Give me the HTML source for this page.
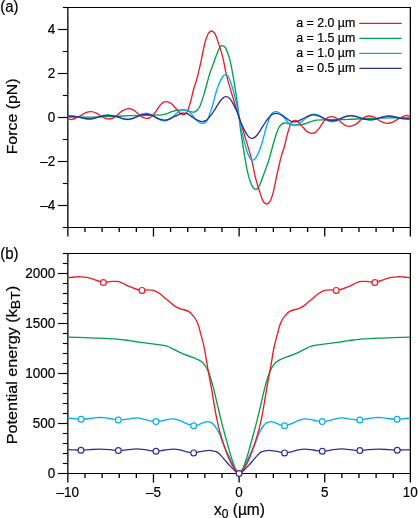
<!DOCTYPE html>
<html><head><meta charset="utf-8"><style>
html,body{margin:0;padding:0;background:#fff;width:418px;height:518px;overflow:hidden}
svg{display:block;will-change:transform}
text{font-family:"Liberation Sans", sans-serif;fill:#000;stroke:#000;stroke-width:0.2px}
</style></head><body>
<svg width="418" height="518" viewBox="0 0 418 518">
<defs><clipPath id="cliptop"><rect x="67.85" y="7.50" width="342.50" height="220.00"/></clipPath>
<clipPath id="clipbot"><rect x="64.85" y="253.50" width="348.50" height="223.00"/></clipPath></defs>
<line x1="67.20" y1="7.50" x2="411.00" y2="7.50" stroke="#000" stroke-width="1.15"/>
<line x1="67.20" y1="227.50" x2="411.00" y2="227.50" stroke="#000" stroke-width="1.15"/>
<line x1="67.85" y1="6.92" x2="67.85" y2="228.07" stroke="#000" stroke-width="1.3"/>
<line x1="410.35" y1="6.92" x2="410.35" y2="228.07" stroke="#000" stroke-width="1.3"/>
<line x1="67.85" y1="227.50" x2="67.85" y2="236.60" stroke="#000" stroke-width="1.3"/>
<line x1="84.97" y1="227.50" x2="84.97" y2="232.00" stroke="#000" stroke-width="1.3"/>
<line x1="102.10" y1="227.50" x2="102.10" y2="232.00" stroke="#000" stroke-width="1.3"/>
<line x1="119.22" y1="227.50" x2="119.22" y2="232.00" stroke="#000" stroke-width="1.3"/>
<line x1="136.35" y1="227.50" x2="136.35" y2="232.00" stroke="#000" stroke-width="1.3"/>
<line x1="153.47" y1="227.50" x2="153.47" y2="236.60" stroke="#000" stroke-width="1.3"/>
<line x1="170.60" y1="227.50" x2="170.60" y2="232.00" stroke="#000" stroke-width="1.3"/>
<line x1="187.72" y1="227.50" x2="187.72" y2="232.00" stroke="#000" stroke-width="1.3"/>
<line x1="204.85" y1="227.50" x2="204.85" y2="232.00" stroke="#000" stroke-width="1.3"/>
<line x1="221.97" y1="227.50" x2="221.97" y2="232.00" stroke="#000" stroke-width="1.3"/>
<line x1="239.10" y1="227.50" x2="239.10" y2="236.60" stroke="#000" stroke-width="1.3"/>
<line x1="256.23" y1="227.50" x2="256.23" y2="232.00" stroke="#000" stroke-width="1.3"/>
<line x1="273.35" y1="227.50" x2="273.35" y2="232.00" stroke="#000" stroke-width="1.3"/>
<line x1="290.48" y1="227.50" x2="290.48" y2="232.00" stroke="#000" stroke-width="1.3"/>
<line x1="307.60" y1="227.50" x2="307.60" y2="232.00" stroke="#000" stroke-width="1.3"/>
<line x1="324.73" y1="227.50" x2="324.73" y2="236.60" stroke="#000" stroke-width="1.3"/>
<line x1="341.85" y1="227.50" x2="341.85" y2="232.00" stroke="#000" stroke-width="1.3"/>
<line x1="358.98" y1="227.50" x2="358.98" y2="232.00" stroke="#000" stroke-width="1.3"/>
<line x1="376.10" y1="227.50" x2="376.10" y2="232.00" stroke="#000" stroke-width="1.3"/>
<line x1="393.23" y1="227.50" x2="393.23" y2="232.00" stroke="#000" stroke-width="1.3"/>
<line x1="410.35" y1="227.50" x2="410.35" y2="236.60" stroke="#000" stroke-width="1.3"/>
<line x1="62.85" y1="227.50" x2="67.85" y2="227.50" stroke="#000" stroke-width="1.15"/>
<line x1="58.05" y1="205.50" x2="67.85" y2="205.50" stroke="#000" stroke-width="1.15"/>
<text transform="translate(55.30,210.20) scale(1,1.1)" font-size="13.5" text-anchor="end" >–4</text>
<line x1="62.85" y1="183.50" x2="67.85" y2="183.50" stroke="#000" stroke-width="1.15"/>
<line x1="58.05" y1="161.50" x2="67.85" y2="161.50" stroke="#000" stroke-width="1.15"/>
<text transform="translate(55.30,166.20) scale(1,1.1)" font-size="13.5" text-anchor="end" >–2</text>
<line x1="62.85" y1="139.50" x2="67.85" y2="139.50" stroke="#000" stroke-width="1.15"/>
<line x1="58.05" y1="117.50" x2="67.85" y2="117.50" stroke="#000" stroke-width="1.15"/>
<text transform="translate(55.30,122.20) scale(1,1.1)" font-size="13.5" text-anchor="end" >0</text>
<line x1="62.85" y1="95.50" x2="67.85" y2="95.50" stroke="#000" stroke-width="1.15"/>
<line x1="58.05" y1="73.50" x2="67.85" y2="73.50" stroke="#000" stroke-width="1.15"/>
<text transform="translate(55.30,78.20) scale(1,1.1)" font-size="13.5" text-anchor="end" >2</text>
<line x1="62.85" y1="51.50" x2="67.85" y2="51.50" stroke="#000" stroke-width="1.15"/>
<line x1="58.05" y1="29.50" x2="67.85" y2="29.50" stroke="#000" stroke-width="1.15"/>
<text transform="translate(55.30,34.20) scale(1,1.1)" font-size="13.5" text-anchor="end" >4</text>
<line x1="62.85" y1="7.50" x2="67.85" y2="7.50" stroke="#000" stroke-width="1.15"/>
<line x1="67.20" y1="253.50" x2="411.00" y2="253.50" stroke="#000" stroke-width="1.15"/>
<line x1="67.20" y1="473.50" x2="411.00" y2="473.50" stroke="#000" stroke-width="1.15"/>
<line x1="67.85" y1="252.93" x2="67.85" y2="474.07" stroke="#000" stroke-width="1.3"/>
<line x1="410.35" y1="252.93" x2="410.35" y2="474.07" stroke="#000" stroke-width="1.3"/>
<line x1="67.85" y1="473.50" x2="67.85" y2="482.60" stroke="#000" stroke-width="1.3"/>
<line x1="84.97" y1="473.50" x2="84.97" y2="478.00" stroke="#000" stroke-width="1.3"/>
<line x1="102.10" y1="473.50" x2="102.10" y2="478.00" stroke="#000" stroke-width="1.3"/>
<line x1="119.22" y1="473.50" x2="119.22" y2="478.00" stroke="#000" stroke-width="1.3"/>
<line x1="136.35" y1="473.50" x2="136.35" y2="478.00" stroke="#000" stroke-width="1.3"/>
<line x1="153.47" y1="473.50" x2="153.47" y2="482.60" stroke="#000" stroke-width="1.3"/>
<line x1="170.60" y1="473.50" x2="170.60" y2="478.00" stroke="#000" stroke-width="1.3"/>
<line x1="187.72" y1="473.50" x2="187.72" y2="478.00" stroke="#000" stroke-width="1.3"/>
<line x1="204.85" y1="473.50" x2="204.85" y2="478.00" stroke="#000" stroke-width="1.3"/>
<line x1="221.97" y1="473.50" x2="221.97" y2="478.00" stroke="#000" stroke-width="1.3"/>
<line x1="239.10" y1="473.50" x2="239.10" y2="482.60" stroke="#000" stroke-width="1.3"/>
<line x1="256.23" y1="473.50" x2="256.23" y2="478.00" stroke="#000" stroke-width="1.3"/>
<line x1="273.35" y1="473.50" x2="273.35" y2="478.00" stroke="#000" stroke-width="1.3"/>
<line x1="290.48" y1="473.50" x2="290.48" y2="478.00" stroke="#000" stroke-width="1.3"/>
<line x1="307.60" y1="473.50" x2="307.60" y2="478.00" stroke="#000" stroke-width="1.3"/>
<line x1="324.73" y1="473.50" x2="324.73" y2="482.60" stroke="#000" stroke-width="1.3"/>
<line x1="341.85" y1="473.50" x2="341.85" y2="478.00" stroke="#000" stroke-width="1.3"/>
<line x1="358.98" y1="473.50" x2="358.98" y2="478.00" stroke="#000" stroke-width="1.3"/>
<line x1="376.10" y1="473.50" x2="376.10" y2="478.00" stroke="#000" stroke-width="1.3"/>
<line x1="393.23" y1="473.50" x2="393.23" y2="478.00" stroke="#000" stroke-width="1.3"/>
<line x1="410.35" y1="473.50" x2="410.35" y2="482.60" stroke="#000" stroke-width="1.3"/>
<line x1="58.05" y1="473.50" x2="67.85" y2="473.50" stroke="#000" stroke-width="1.15"/>
<text transform="translate(55.30,478.10) scale(1,1.1)" font-size="13.5" text-anchor="end" >0</text>
<line x1="62.85" y1="463.50" x2="67.85" y2="463.50" stroke="#000" stroke-width="1.15"/>
<line x1="62.85" y1="453.50" x2="67.85" y2="453.50" stroke="#000" stroke-width="1.15"/>
<line x1="62.85" y1="443.50" x2="67.85" y2="443.50" stroke="#000" stroke-width="1.15"/>
<line x1="62.85" y1="433.50" x2="67.85" y2="433.50" stroke="#000" stroke-width="1.15"/>
<line x1="58.05" y1="423.50" x2="67.85" y2="423.50" stroke="#000" stroke-width="1.15"/>
<text transform="translate(55.30,428.10) scale(1,1.1)" font-size="13.5" text-anchor="end" >500</text>
<line x1="62.85" y1="413.50" x2="67.85" y2="413.50" stroke="#000" stroke-width="1.15"/>
<line x1="62.85" y1="403.50" x2="67.85" y2="403.50" stroke="#000" stroke-width="1.15"/>
<line x1="62.85" y1="393.50" x2="67.85" y2="393.50" stroke="#000" stroke-width="1.15"/>
<line x1="62.85" y1="383.50" x2="67.85" y2="383.50" stroke="#000" stroke-width="1.15"/>
<line x1="58.05" y1="373.50" x2="67.85" y2="373.50" stroke="#000" stroke-width="1.15"/>
<text transform="translate(55.30,378.10) scale(1,1.1)" font-size="13.5" text-anchor="end" >1000</text>
<line x1="62.85" y1="363.50" x2="67.85" y2="363.50" stroke="#000" stroke-width="1.15"/>
<line x1="62.85" y1="353.50" x2="67.85" y2="353.50" stroke="#000" stroke-width="1.15"/>
<line x1="62.85" y1="343.50" x2="67.85" y2="343.50" stroke="#000" stroke-width="1.15"/>
<line x1="62.85" y1="333.50" x2="67.85" y2="333.50" stroke="#000" stroke-width="1.15"/>
<line x1="58.05" y1="323.50" x2="67.85" y2="323.50" stroke="#000" stroke-width="1.15"/>
<text transform="translate(55.30,328.10) scale(1,1.1)" font-size="13.5" text-anchor="end" >1500</text>
<line x1="62.85" y1="313.50" x2="67.85" y2="313.50" stroke="#000" stroke-width="1.15"/>
<line x1="62.85" y1="303.50" x2="67.85" y2="303.50" stroke="#000" stroke-width="1.15"/>
<line x1="62.85" y1="293.50" x2="67.85" y2="293.50" stroke="#000" stroke-width="1.15"/>
<line x1="62.85" y1="283.50" x2="67.85" y2="283.50" stroke="#000" stroke-width="1.15"/>
<line x1="58.05" y1="273.50" x2="67.85" y2="273.50" stroke="#000" stroke-width="1.15"/>
<text transform="translate(55.30,278.10) scale(1,1.1)" font-size="13.5" text-anchor="end" >2000</text>
<line x1="62.85" y1="263.50" x2="67.85" y2="263.50" stroke="#000" stroke-width="1.15"/>
<line x1="62.85" y1="253.50" x2="67.85" y2="253.50" stroke="#000" stroke-width="1.15"/>
<text transform="translate(67.85,496.60) scale(1,1.1)" font-size="13.5" text-anchor="middle" >–10</text>
<text transform="translate(153.47,496.60) scale(1,1.1)" font-size="13.5" text-anchor="middle" >–5</text>
<text transform="translate(239.10,496.60) scale(1,1.1)" font-size="13.5" text-anchor="middle" >0</text>
<text transform="translate(324.73,496.60) scale(1,1.1)" font-size="13.5" text-anchor="middle" >5</text>
<text transform="translate(410.35,496.60) scale(1,1.1)" font-size="13.5" text-anchor="middle" >10</text>
<text transform="translate(0.30,12.10) scale(1,1.07)" font-size="15" text-anchor="start" >(a)</text>
<text transform="translate(0.30,258.50) scale(1,1.07)" font-size="15" text-anchor="start" >(b)</text>
<text transform="translate(17,116.4) scale(1,1.06) rotate(-90)" font-size="15" text-anchor="middle">Force (pN)</text>
<text transform="translate(17.2,444.2) scale(1,1.08) rotate(-90)" font-size="15" text-anchor="start">Potential energy (k<tspan font-size="13" dy="3">BT</tspan><tspan dy="-3">)</tspan></text>
<text transform="translate(214,514.6) scale(1,1.08)" font-size="15.5" text-anchor="start">x<tspan font-size="12" dy="3.0">0</tspan><tspan dy="-3.0"> (µm)</tspan></text>
<text transform="translate(355.30,26.90) scale(1,1.1)" font-size="12.4" text-anchor="end" >a = 2.0 µm</text>
<line x1="359.30" y1="23.35" x2="401.70" y2="23.35" stroke="#ed1c24" stroke-width="1.25"/>
<text transform="translate(355.30,41.90) scale(1,1.1)" font-size="12.4" text-anchor="end" >a = 1.5 µm</text>
<line x1="359.30" y1="38.35" x2="401.70" y2="38.35" stroke="#00a14b" stroke-width="1.25"/>
<text transform="translate(355.30,56.90) scale(1,1.1)" font-size="12.4" text-anchor="end" >a = 1.0 µm</text>
<line x1="359.30" y1="53.35" x2="401.70" y2="53.35" stroke="#00aeef" stroke-width="1.25"/>
<text transform="translate(355.30,71.90) scale(1,1.1)" font-size="12.4" text-anchor="end" >a = 0.5 µm</text>
<line x1="359.30" y1="68.35" x2="401.70" y2="68.35" stroke="#2e3192" stroke-width="1.25"/>
<g transform="translate(-0.15,0.3)">
<path d="M68.00,116.80 C70.83,116.82 79.67,116.93 85.00,116.90 C90.33,116.87 94.83,116.75 100.00,116.60 C105.17,116.45 111.00,116.22 116.00,116.00 C121.00,115.78 125.17,115.47 130.00,115.30 C134.83,115.13 140.83,115.07 145.00,115.00 C149.17,114.93 152.17,114.97 155.00,114.90 C157.83,114.83 160.17,114.82 162.00,114.60 C163.83,114.38 164.67,114.00 166.00,113.60 C167.33,113.20 168.75,112.65 170.00,112.20 C171.25,111.75 172.22,111.28 173.50,110.90 C174.78,110.52 175.88,110.12 177.70,109.90 C179.52,109.68 182.60,109.48 184.40,109.60 C186.20,109.72 187.32,110.27 188.50,110.60 C189.68,110.93 190.50,111.42 191.50,111.60 C192.50,111.78 193.50,112.03 194.50,111.70 C195.50,111.37 196.62,110.47 197.50,109.60 C198.38,108.73 198.95,108.27 199.80,106.50 C200.65,104.73 201.73,101.58 202.60,99.00 C203.47,96.42 204.17,93.92 205.00,91.00 C205.83,88.08 206.77,84.50 207.60,81.50 C208.43,78.50 209.27,75.33 210.00,73.00 C210.73,70.67 211.33,69.33 212.00,67.50 C212.67,65.67 213.28,63.98 214.00,62.00 C214.72,60.02 215.43,57.87 216.30,55.60 C217.17,53.33 218.42,50.00 219.20,48.40 C219.98,46.80 220.45,46.52 221.00,46.00 C221.55,45.48 221.97,45.28 222.50,45.30 C223.03,45.32 223.63,45.65 224.20,46.10 C224.77,46.55 225.30,46.93 225.90,48.00 C226.50,49.07 227.25,51.07 227.80,52.50 C228.35,53.93 228.67,54.77 229.20,56.60 C229.73,58.43 230.42,60.83 231.00,63.50 C231.58,66.17 232.00,68.58 232.70,72.60 C233.40,76.62 234.37,82.28 235.20,87.60 C236.03,92.92 237.02,99.57 237.70,104.50 C238.38,109.43 238.73,112.97 239.25,117.20 C239.77,121.43 240.12,124.97 240.80,129.90 C241.48,134.83 242.47,141.48 243.30,146.80 C244.13,152.12 245.10,157.78 245.80,161.80 C246.50,165.82 246.92,168.23 247.50,170.90 C248.08,173.57 248.77,175.97 249.30,177.80 C249.83,179.63 250.15,180.47 250.70,181.90 C251.25,183.33 252.00,185.33 252.60,186.40 C253.20,187.47 253.73,187.85 254.30,188.30 C254.87,188.75 255.47,189.08 256.00,189.10 C256.53,189.12 256.95,188.92 257.50,188.40 C258.05,187.88 258.52,187.60 259.30,186.00 C260.08,184.40 261.33,181.07 262.20,178.80 C263.07,176.53 263.78,174.38 264.50,172.40 C265.22,170.42 265.83,168.73 266.50,166.90 C267.17,165.07 267.77,163.73 268.50,161.40 C269.23,159.07 270.07,155.90 270.90,152.90 C271.73,149.90 272.67,146.32 273.50,143.40 C274.33,140.48 275.03,137.98 275.90,135.40 C276.77,132.82 277.85,129.67 278.70,127.90 C279.55,126.13 280.12,125.67 281.00,124.80 C281.88,123.93 283.00,123.03 284.00,122.70 C285.00,122.37 286.00,122.62 287.00,122.80 C288.00,122.98 288.82,123.47 290.00,123.80 C291.18,124.13 292.30,124.68 294.10,124.80 C295.90,124.92 298.98,124.72 300.80,124.50 C302.62,124.28 303.72,123.88 305.00,123.50 C306.28,123.12 307.25,122.65 308.50,122.20 C309.75,121.75 311.17,121.20 312.50,120.80 C313.83,120.40 314.67,120.02 316.50,119.80 C318.33,119.58 320.67,119.57 323.50,119.50 C326.33,119.43 329.33,119.47 333.50,119.40 C337.67,119.33 343.67,119.27 348.50,119.10 C353.33,118.93 357.50,118.62 362.50,118.40 C367.50,118.18 373.33,117.95 378.50,117.80 C383.67,117.65 388.17,117.53 393.50,117.50 C398.83,117.47 407.67,117.58 410.50,117.60" fill="none" stroke="#00a14b" stroke-width="1.35" clip-path="url(#cliptop)"/>
<path d="M68.00,118.30 C68.77,118.43 70.62,119.50 72.60,119.10 C74.58,118.70 77.75,116.98 79.90,115.90 C82.05,114.82 83.58,113.35 85.50,112.60 C87.42,111.85 89.57,111.37 91.40,111.40 C93.23,111.43 94.83,112.07 96.50,112.80 C98.17,113.53 99.90,114.93 101.40,115.80 C102.90,116.67 104.13,117.52 105.50,118.00 C106.87,118.48 108.35,118.73 109.60,118.70 C110.85,118.67 111.82,118.30 113.00,117.80 C114.18,117.30 115.20,116.87 116.70,115.70 C118.20,114.53 120.00,112.03 122.00,110.80 C124.00,109.57 126.78,108.50 128.70,108.30 C130.62,108.10 132.03,108.85 133.50,109.60 C134.97,110.35 136.08,111.63 137.50,112.80 C138.92,113.97 140.50,115.72 142.00,116.60 C143.50,117.48 145.17,117.98 146.50,118.10 C147.83,118.22 148.88,117.80 150.00,117.30 C151.12,116.80 152.12,116.23 153.20,115.10 C154.28,113.97 155.37,112.13 156.50,110.50 C157.63,108.87 158.92,106.67 160.00,105.30 C161.08,103.93 161.90,102.95 163.00,102.30 C164.10,101.65 165.43,101.35 166.60,101.40 C167.77,101.45 169.10,102.20 170.00,102.60 C170.90,103.00 170.87,102.72 172.00,103.80 C173.13,104.88 175.47,107.63 176.80,109.10 C178.13,110.57 179.00,111.75 180.00,112.60 C181.00,113.45 181.88,114.03 182.80,114.20 C183.72,114.37 184.72,114.10 185.50,113.60 C186.28,113.10 186.83,112.55 187.50,111.20 C188.17,109.85 188.82,107.70 189.50,105.50 C190.18,103.30 190.87,100.83 191.60,98.00 C192.33,95.17 193.03,91.62 193.90,88.50 C194.77,85.38 195.93,82.37 196.80,79.30 C197.67,76.23 198.33,73.32 199.10,70.10 C199.87,66.88 200.68,63.35 201.40,60.00 C202.12,56.65 202.75,53.07 203.40,50.00 C204.05,46.93 204.70,43.87 205.30,41.60 C205.90,39.33 206.47,37.80 207.00,36.40 C207.53,35.00 207.97,34.05 208.50,33.20 C209.03,32.35 209.65,31.72 210.20,31.30 C210.75,30.88 211.27,30.68 211.80,30.70 C212.33,30.72 212.88,31.00 213.40,31.40 C213.92,31.80 214.40,32.30 214.90,33.10 C215.40,33.90 215.92,35.00 216.40,36.20 C216.88,37.40 217.10,38.18 217.80,40.30 C218.50,42.42 219.67,45.78 220.60,48.90 C221.53,52.02 222.43,54.85 223.40,59.00 C224.37,63.15 225.27,69.03 226.40,73.80 C227.53,78.57 228.93,83.20 230.20,87.60 C231.47,92.00 232.85,96.42 234.00,100.20 C235.15,103.98 236.22,107.47 237.10,110.30 C237.97,113.13 238.53,114.90 239.25,117.20 C239.97,119.50 240.53,121.27 241.40,124.10 C242.28,126.93 243.35,130.42 244.50,134.20 C245.65,137.98 247.03,142.40 248.30,146.80 C249.57,151.20 250.97,155.83 252.10,160.60 C253.23,165.37 254.13,171.25 255.10,175.40 C256.07,179.55 256.97,182.38 257.90,185.50 C258.83,188.62 260.00,191.98 260.70,194.10 C261.40,196.22 261.62,197.00 262.10,198.20 C262.58,199.40 263.10,200.50 263.60,201.30 C264.10,202.10 264.58,202.60 265.10,203.00 C265.62,203.40 266.17,203.68 266.70,203.70 C267.23,203.72 267.75,203.52 268.30,203.10 C268.85,202.68 269.47,202.05 270.00,201.20 C270.53,200.35 270.97,199.40 271.50,198.00 C272.03,196.60 272.60,195.07 273.20,192.80 C273.80,190.53 274.45,187.47 275.10,184.40 C275.75,181.33 276.38,177.75 277.10,174.40 C277.82,171.05 278.63,167.52 279.40,164.30 C280.17,161.08 280.83,158.17 281.70,155.10 C282.57,152.03 283.73,149.02 284.60,145.90 C285.47,142.78 286.17,139.23 286.90,136.40 C287.63,133.57 288.32,131.10 289.00,128.90 C289.68,126.70 290.33,124.55 291.00,123.20 C291.67,121.85 292.22,121.30 293.00,120.80 C293.78,120.30 294.78,120.03 295.70,120.20 C296.62,120.37 297.50,120.95 298.50,121.80 C299.50,122.65 300.37,123.83 301.70,125.30 C303.03,126.77 305.37,129.52 306.50,130.60 C307.63,131.68 307.60,131.40 308.50,131.80 C309.40,132.20 310.73,132.95 311.90,133.00 C313.07,133.05 314.40,132.75 315.50,132.10 C316.60,131.45 317.42,130.47 318.50,129.10 C319.58,127.73 320.87,125.53 322.00,123.90 C323.13,122.27 324.22,120.43 325.30,119.30 C326.38,118.17 327.38,117.60 328.50,117.10 C329.62,116.60 330.67,116.18 332.00,116.30 C333.33,116.42 335.00,116.92 336.50,117.80 C338.00,118.68 339.58,120.43 341.00,121.60 C342.42,122.77 343.53,124.05 345.00,124.80 C346.47,125.55 347.88,126.30 349.80,126.10 C351.72,125.90 354.50,124.83 356.50,123.60 C358.50,122.37 360.30,119.87 361.80,118.70 C363.30,117.53 364.32,117.10 365.50,116.60 C366.68,116.10 367.65,115.73 368.90,115.70 C370.15,115.67 371.63,115.92 373.00,116.40 C374.37,116.88 375.60,117.73 377.10,118.60 C378.60,119.47 380.33,120.87 382.00,121.60 C383.67,122.33 385.27,122.97 387.10,123.00 C388.93,123.03 391.08,122.55 393.00,121.80 C394.92,121.05 396.45,119.58 398.60,118.50 C400.75,117.42 403.92,115.70 405.90,115.30 C407.88,114.90 409.73,115.97 410.50,116.10" fill="none" stroke="#ed1c24" stroke-width="1.35" clip-path="url(#cliptop)"/>
<path d="M68.00,115.10 C68.83,115.18 71.17,115.33 73.00,115.60 C74.83,115.87 77.08,116.27 79.00,116.70 C80.92,117.13 82.67,117.83 84.50,118.20 C86.33,118.57 88.25,118.93 90.00,118.90 C91.75,118.87 93.33,118.45 95.00,118.00 C96.67,117.55 98.50,116.70 100.00,116.20 C101.50,115.70 102.63,115.25 104.00,115.00 C105.37,114.75 106.87,114.67 108.20,114.70 C109.53,114.73 110.58,114.95 112.00,115.20 C113.42,115.45 115.03,115.67 116.70,116.20 C118.37,116.73 120.15,117.88 122.00,118.40 C123.85,118.92 125.97,119.33 127.80,119.30 C129.63,119.27 131.47,118.72 133.00,118.20 C134.53,117.68 135.58,116.93 137.00,116.20 C138.42,115.47 140.00,114.33 141.50,113.80 C143.00,113.27 144.67,113.02 146.00,113.00 C147.33,112.98 148.38,113.35 149.50,113.70 C150.62,114.05 151.20,114.23 152.70,115.10 C154.20,115.97 156.53,117.98 158.50,118.90 C160.47,119.82 163.00,120.43 164.50,120.60 C166.00,120.77 166.50,120.32 167.50,119.90 C168.50,119.48 169.58,118.72 170.50,118.10 C171.42,117.48 172.17,116.85 173.00,116.20 C173.83,115.55 174.67,114.92 175.50,114.20 C176.33,113.48 177.17,112.53 178.00,111.90 C178.83,111.27 179.58,110.78 180.50,110.40 C181.42,110.02 182.20,109.58 183.50,109.60 C184.80,109.62 186.87,109.70 188.30,110.50 C189.73,111.30 190.67,112.80 192.10,114.40 C193.53,116.00 195.30,118.67 196.90,120.10 C198.50,121.53 200.43,122.58 201.70,123.00 C202.97,123.42 203.70,122.90 204.50,122.60 C205.30,122.30 205.83,122.05 206.50,121.20 C207.17,120.35 207.87,118.97 208.50,117.50 C209.13,116.03 209.72,114.03 210.30,112.40 C210.88,110.77 211.35,109.85 212.00,107.70 C212.65,105.55 213.47,102.22 214.20,99.50 C214.93,96.78 215.60,93.98 216.40,91.40 C217.20,88.82 218.17,86.10 219.00,84.00 C219.83,81.90 220.65,80.20 221.40,78.80 C222.15,77.40 222.77,76.33 223.50,75.60 C224.23,74.87 225.05,74.37 225.80,74.40 C226.55,74.43 227.27,74.85 228.00,75.80 C228.73,76.75 229.50,78.40 230.20,80.10 C230.90,81.80 231.57,83.90 232.20,86.00 C232.83,88.10 233.43,90.53 234.00,92.70 C234.57,94.87 235.08,96.92 235.60,99.00 C236.12,101.08 236.49,102.17 237.10,105.20 C237.71,108.23 238.53,113.20 239.25,117.20 C239.97,121.20 240.79,126.17 241.40,129.20 C242.01,132.23 242.38,133.32 242.90,135.40 C243.42,137.48 243.93,139.53 244.50,141.70 C245.07,143.87 245.67,146.30 246.30,148.40 C246.93,150.50 247.60,152.60 248.30,154.30 C249.00,156.00 249.77,157.65 250.50,158.60 C251.23,159.55 251.95,159.97 252.70,160.00 C253.45,160.03 254.27,159.53 255.00,158.80 C255.73,158.07 256.35,157.00 257.10,155.60 C257.85,154.20 258.67,152.50 259.50,150.40 C260.33,148.30 261.30,145.58 262.10,143.00 C262.90,140.42 263.57,137.62 264.30,134.90 C265.03,132.18 265.85,128.85 266.50,126.70 C267.15,124.55 267.62,123.63 268.20,122.00 C268.78,120.37 269.37,118.37 270.00,116.90 C270.63,115.43 271.33,114.05 272.00,113.20 C272.67,112.35 273.20,112.10 274.00,111.80 C274.80,111.50 275.53,110.98 276.80,111.40 C278.07,111.82 280.00,112.87 281.60,114.30 C283.20,115.73 284.97,118.40 286.40,120.00 C287.83,121.60 288.77,123.10 290.20,123.90 C291.63,124.70 293.70,124.78 295.00,124.80 C296.30,124.82 297.08,124.38 298.00,124.00 C298.92,123.62 299.67,123.13 300.50,122.50 C301.33,121.87 302.17,120.92 303.00,120.20 C303.83,119.48 304.67,118.85 305.50,118.20 C306.33,117.55 307.08,116.92 308.00,116.30 C308.92,115.68 310.00,114.92 311.00,114.50 C312.00,114.08 312.50,113.63 314.00,113.80 C315.50,113.97 318.03,114.58 320.00,115.50 C321.97,116.42 324.30,118.43 325.80,119.30 C327.30,120.17 327.88,120.35 329.00,120.70 C330.12,121.05 331.17,121.42 332.50,121.40 C333.83,121.38 335.50,121.13 337.00,120.60 C338.50,120.07 340.08,118.93 341.50,118.20 C342.92,117.47 343.97,116.72 345.50,116.20 C347.03,115.68 348.87,115.13 350.70,115.10 C352.53,115.07 354.65,115.48 356.50,116.00 C358.35,116.52 360.13,117.67 361.80,118.20 C363.47,118.73 365.08,118.95 366.50,119.20 C367.92,119.45 368.97,119.67 370.30,119.70 C371.63,119.73 373.13,119.65 374.50,119.40 C375.87,119.15 377.00,118.70 378.50,118.20 C380.00,117.70 381.83,116.85 383.50,116.40 C385.17,115.95 386.75,115.53 388.50,115.50 C390.25,115.47 392.17,115.83 394.00,116.20 C395.83,116.57 397.58,117.27 399.50,117.70 C401.42,118.13 403.67,118.53 405.50,118.80 C407.33,119.07 409.67,119.22 410.50,119.30" fill="none" stroke="#00aeef" stroke-width="1.35" clip-path="url(#cliptop)"/>
<path d="M68.00,115.80 C68.83,115.83 71.17,115.85 73.00,116.00 C74.83,116.15 77.08,116.38 79.00,116.70 C80.92,117.02 82.67,117.60 84.50,117.90 C86.33,118.20 88.25,118.53 90.00,118.50 C91.75,118.47 93.33,118.05 95.00,117.70 C96.67,117.35 98.50,116.78 100.00,116.40 C101.50,116.02 102.63,115.62 104.00,115.40 C105.37,115.18 106.87,115.10 108.20,115.10 C109.53,115.10 110.58,115.22 112.00,115.40 C113.42,115.58 115.03,115.77 116.70,116.20 C118.37,116.63 120.15,117.55 122.00,118.00 C123.85,118.45 125.97,118.90 127.80,118.90 C129.63,118.90 131.47,118.40 133.00,118.00 C134.53,117.60 135.58,117.07 137.00,116.50 C138.42,115.93 140.00,115.02 141.50,114.60 C143.00,114.18 144.67,114.03 146.00,114.00 C147.33,113.97 148.38,114.18 149.50,114.40 C150.62,114.62 151.20,114.65 152.70,115.30 C154.20,115.95 156.53,117.55 158.50,118.30 C160.47,119.05 162.83,119.65 164.50,119.80 C166.17,119.95 167.25,119.55 168.50,119.20 C169.75,118.85 170.62,118.35 172.00,117.70 C173.38,117.05 175.05,116.10 176.80,115.30 C178.55,114.50 180.75,113.22 182.50,112.90 C184.25,112.58 185.87,112.92 187.30,113.40 C188.73,113.88 189.67,114.85 191.10,115.80 C192.53,116.75 194.13,118.18 195.90,119.10 C197.67,120.02 199.95,121.13 201.70,121.30 C203.45,121.47 205.18,120.73 206.40,120.10 C207.62,119.47 208.07,118.53 209.00,117.50 C209.93,116.47 210.98,115.32 212.00,113.90 C213.02,112.48 214.10,110.60 215.10,109.00 C216.10,107.40 217.05,105.77 218.00,104.30 C218.95,102.83 219.92,101.32 220.80,100.20 C221.68,99.08 222.47,98.23 223.30,97.60 C224.13,96.97 225.02,96.55 225.80,96.40 C226.58,96.25 227.27,96.33 228.00,96.70 C228.73,97.07 229.50,97.80 230.20,98.60 C230.90,99.40 231.57,100.47 232.20,101.50 C232.83,102.53 233.37,103.55 234.00,104.80 C234.63,106.05 235.38,107.67 236.00,109.00 C236.62,110.33 237.16,111.43 237.70,112.80 C238.24,114.17 238.73,115.73 239.25,117.20 C239.77,118.67 240.26,120.23 240.80,121.60 C241.34,122.97 241.88,124.07 242.50,125.40 C243.12,126.73 243.87,128.35 244.50,129.60 C245.13,130.85 245.67,131.87 246.30,132.90 C246.93,133.93 247.60,135.00 248.30,135.80 C249.00,136.60 249.77,137.33 250.50,137.70 C251.23,138.07 251.92,138.15 252.70,138.00 C253.48,137.85 254.37,137.43 255.20,136.80 C256.03,136.17 256.82,135.32 257.70,134.20 C258.58,133.08 259.55,131.57 260.50,130.10 C261.45,128.63 262.40,127.00 263.40,125.40 C264.40,123.80 265.48,121.92 266.50,120.50 C267.52,119.08 268.57,117.93 269.50,116.90 C270.43,115.87 270.88,114.93 272.10,114.30 C273.32,113.67 275.05,112.93 276.80,113.10 C278.55,113.27 280.83,114.38 282.60,115.30 C284.37,116.22 285.97,117.65 287.40,118.60 C288.83,119.55 289.77,120.52 291.20,121.00 C292.63,121.48 294.25,121.82 296.00,121.50 C297.75,121.18 299.95,119.90 301.70,119.10 C303.45,118.30 305.12,117.35 306.50,116.70 C307.88,116.05 308.75,115.55 310.00,115.20 C311.25,114.85 312.33,114.45 314.00,114.60 C315.67,114.75 318.03,115.35 320.00,116.10 C321.97,116.85 324.30,118.45 325.80,119.10 C327.30,119.75 327.88,119.78 329.00,120.00 C330.12,120.22 331.17,120.43 332.50,120.40 C333.83,120.37 335.50,120.22 337.00,119.80 C338.50,119.38 340.08,118.47 341.50,117.90 C342.92,117.33 343.97,116.80 345.50,116.40 C347.03,116.00 348.87,115.50 350.70,115.50 C352.53,115.50 354.65,115.95 356.50,116.40 C358.35,116.85 360.13,117.77 361.80,118.20 C363.47,118.63 365.08,118.82 366.50,119.00 C367.92,119.18 368.97,119.30 370.30,119.30 C371.63,119.30 373.13,119.22 374.50,119.00 C375.87,118.78 377.00,118.38 378.50,118.00 C380.00,117.62 381.83,117.05 383.50,116.70 C385.17,116.35 386.75,115.93 388.50,115.90 C390.25,115.87 392.17,116.20 394.00,116.50 C395.83,116.80 397.58,117.38 399.50,117.70 C401.42,118.02 403.67,118.25 405.50,118.40 C407.33,118.55 409.67,118.57 410.50,118.60" fill="none" stroke="#2e3192" stroke-width="1.35" clip-path="url(#cliptop)"/>
</g>
<g transform="translate(-0.15,0.4)">
<path d="M68.00,449.30 C69.17,449.33 72.82,449.42 75.00,449.50 C77.18,449.58 78.60,449.85 81.10,449.80 C83.60,449.75 86.85,449.37 90.00,449.20 C93.15,449.03 96.67,448.78 100.00,448.80 C103.33,448.82 106.92,449.07 110.00,449.30 C113.08,449.53 115.50,450.20 118.50,450.20 C121.50,450.20 124.92,449.58 128.00,449.30 C131.08,449.02 134.17,448.50 137.00,448.50 C139.83,448.50 141.82,448.90 145.00,449.30 C148.18,449.70 152.77,450.85 156.10,450.90 C159.43,450.95 162.02,449.95 165.00,449.60 C167.98,449.25 171.50,448.82 174.00,448.80 C176.50,448.78 178.00,449.10 180.00,449.50 C182.00,449.90 183.70,450.70 186.00,451.20 C188.30,451.70 191.47,452.48 193.80,452.50 C196.13,452.52 198.13,451.65 200.00,451.30 C201.87,450.95 203.42,450.62 205.00,450.40 C206.58,450.18 208.17,450.00 209.50,450.00 C210.83,450.00 211.85,450.18 213.00,450.40 C214.15,450.62 215.47,450.92 216.40,451.30 C217.33,451.68 217.85,452.08 218.60,452.70 C219.35,453.32 220.07,454.12 220.90,455.00 C221.73,455.88 222.67,456.93 223.60,458.00 C224.53,459.07 225.53,460.28 226.50,461.40 C227.47,462.52 228.48,463.68 229.40,464.70 C230.32,465.72 231.17,466.65 232.00,467.50 C232.83,468.35 233.63,469.10 234.40,469.80 C235.17,470.50 235.79,471.15 236.60,471.70 C237.41,472.25 238.37,473.10 239.25,473.10 C240.13,473.10 241.09,472.25 241.90,471.70 C242.71,471.15 243.33,470.50 244.10,469.80 C244.87,469.10 245.67,468.35 246.50,467.50 C247.33,466.65 248.18,465.72 249.10,464.70 C250.02,463.68 251.03,462.52 252.00,461.40 C252.97,460.28 253.97,459.07 254.90,458.00 C255.83,456.93 256.77,455.88 257.60,455.00 C258.43,454.12 259.15,453.32 259.90,452.70 C260.65,452.08 261.17,451.68 262.10,451.30 C263.03,450.92 264.35,450.62 265.50,450.40 C266.65,450.18 267.67,450.00 269.00,450.00 C270.33,450.00 271.92,450.18 273.50,450.40 C275.08,450.62 276.63,450.95 278.50,451.30 C280.37,451.65 282.37,452.52 284.70,452.50 C287.03,452.48 290.20,451.70 292.50,451.20 C294.80,450.70 296.50,449.90 298.50,449.50 C300.50,449.10 302.00,448.78 304.50,448.80 C307.00,448.82 310.52,449.25 313.50,449.60 C316.48,449.95 319.07,450.95 322.40,450.90 C325.73,450.85 330.32,449.70 333.50,449.30 C336.68,448.90 338.67,448.50 341.50,448.50 C344.33,448.50 347.42,449.02 350.50,449.30 C353.58,449.58 357.00,450.20 360.00,450.20 C363.00,450.20 365.42,449.53 368.50,449.30 C371.58,449.07 375.17,448.82 378.50,448.80 C381.83,448.78 385.35,449.03 388.50,449.20 C391.65,449.37 394.90,449.75 397.40,449.80 C399.90,449.85 401.32,449.58 403.50,449.50 C405.68,449.42 409.33,449.33 410.50,449.30" fill="none" stroke="#2e3192" stroke-width="1.35" clip-path="url(#clipbot)"/>
<path d="M68.00,417.70 C69.00,417.78 71.78,418.00 74.00,418.20 C76.22,418.40 78.63,418.92 81.30,418.90 C83.97,418.88 87.38,418.38 90.00,418.10 C92.62,417.82 94.67,417.33 97.00,417.20 C99.33,417.07 101.83,417.15 104.00,417.30 C106.17,417.45 107.58,417.72 110.00,418.10 C112.42,418.48 116.17,419.40 118.50,419.60 C120.83,419.80 122.08,419.50 124.00,419.30 C125.92,419.10 127.83,418.70 130.00,418.40 C132.17,418.10 134.50,417.40 137.00,417.50 C139.50,417.60 142.83,418.52 145.00,419.00 C147.17,419.48 148.15,420.03 150.00,420.40 C151.85,420.77 154.10,421.18 156.10,421.20 C158.10,421.22 160.18,420.83 162.00,420.50 C163.82,420.17 165.17,419.53 167.00,419.20 C168.83,418.87 171.17,418.47 173.00,418.50 C174.83,418.53 176.33,418.92 178.00,419.40 C179.67,419.88 181.33,420.67 183.00,421.40 C184.67,422.13 186.20,423.15 188.00,423.80 C189.80,424.45 191.97,425.23 193.80,425.30 C195.63,425.37 197.47,424.68 199.00,424.20 C200.53,423.72 201.58,422.88 203.00,422.40 C204.42,421.92 206.20,421.37 207.50,421.30 C208.80,421.23 209.88,421.65 210.80,422.00 C211.72,422.35 212.30,422.80 213.00,423.40 C213.70,424.00 214.25,424.62 215.00,425.60 C215.75,426.58 216.70,427.90 217.50,429.30 C218.30,430.70 219.05,432.22 219.80,434.00 C220.55,435.78 221.27,438.12 222.00,440.00 C222.73,441.88 223.47,443.62 224.20,445.30 C224.93,446.98 225.55,448.28 226.40,450.10 C227.25,451.92 228.45,454.38 229.30,456.20 C230.15,458.02 230.82,459.55 231.50,461.00 C232.18,462.45 232.82,463.75 233.40,464.90 C233.98,466.05 234.48,467.00 235.00,467.90 C235.52,468.80 236.02,469.62 236.50,470.30 C236.98,470.98 237.44,471.53 237.90,472.00 C238.36,472.47 238.80,473.10 239.25,473.10 C239.70,473.10 240.14,472.47 240.60,472.00 C241.06,471.53 241.52,470.98 242.00,470.30 C242.48,469.62 242.98,468.80 243.50,467.90 C244.02,467.00 244.52,466.05 245.10,464.90 C245.68,463.75 246.32,462.45 247.00,461.00 C247.68,459.55 248.35,458.02 249.20,456.20 C250.05,454.38 251.25,451.92 252.10,450.10 C252.95,448.28 253.57,446.98 254.30,445.30 C255.03,443.62 255.77,441.88 256.50,440.00 C257.23,438.12 257.95,435.78 258.70,434.00 C259.45,432.22 260.20,430.70 261.00,429.30 C261.80,427.90 262.75,426.58 263.50,425.60 C264.25,424.62 264.80,424.00 265.50,423.40 C266.20,422.80 266.78,422.35 267.70,422.00 C268.62,421.65 269.70,421.23 271.00,421.30 C272.30,421.37 274.08,421.92 275.50,422.40 C276.92,422.88 277.97,423.72 279.50,424.20 C281.03,424.68 282.87,425.37 284.70,425.30 C286.53,425.23 288.70,424.45 290.50,423.80 C292.30,423.15 293.83,422.13 295.50,421.40 C297.17,420.67 298.83,419.88 300.50,419.40 C302.17,418.92 303.67,418.53 305.50,418.50 C307.33,418.47 309.67,418.87 311.50,419.20 C313.33,419.53 314.68,420.17 316.50,420.50 C318.32,420.83 320.40,421.22 322.40,421.20 C324.40,421.18 326.65,420.77 328.50,420.40 C330.35,420.03 331.33,419.48 333.50,419.00 C335.67,418.52 339.00,417.60 341.50,417.50 C344.00,417.40 346.33,418.10 348.50,418.40 C350.67,418.70 352.58,419.10 354.50,419.30 C356.42,419.50 357.67,419.80 360.00,419.60 C362.33,419.40 366.08,418.48 368.50,418.10 C370.92,417.72 372.33,417.45 374.50,417.30 C376.67,417.15 379.17,417.07 381.50,417.20 C383.83,417.33 385.88,417.82 388.50,418.10 C391.12,418.38 394.53,418.88 397.20,418.90 C399.87,418.92 402.28,418.40 404.50,418.20 C406.72,418.00 409.50,417.78 410.50,417.70" fill="none" stroke="#00aeef" stroke-width="1.35" clip-path="url(#clipbot)"/>
<path d="M68.00,336.80 C70.83,336.87 79.67,337.05 85.00,337.20 C90.33,337.35 95.00,337.48 100.00,337.70 C105.00,337.92 110.83,338.18 115.00,338.50 C119.17,338.82 121.67,339.17 125.00,339.60 C128.33,340.03 131.67,340.62 135.00,341.10 C138.33,341.58 141.67,342.05 145.00,342.50 C148.33,342.95 152.17,343.43 155.00,343.80 C157.83,344.17 160.00,344.37 162.00,344.70 C164.00,345.03 165.50,345.35 167.00,345.80 C168.50,346.25 169.67,346.78 171.00,347.40 C172.33,348.02 173.17,348.57 175.00,349.50 C176.83,350.43 179.83,352.03 182.00,353.00 C184.17,353.97 186.17,354.63 188.00,355.30 C189.83,355.97 191.50,356.42 193.00,357.00 C194.50,357.58 195.83,358.27 197.00,358.80 C198.17,359.33 199.00,359.60 200.00,360.20 C201.00,360.80 202.17,361.62 203.00,362.40 C203.83,363.18 204.33,363.97 205.00,364.90 C205.67,365.83 206.42,366.95 207.00,368.00 C207.58,369.05 207.98,369.93 208.50,371.20 C209.02,372.47 209.58,374.05 210.10,375.60 C210.62,377.15 211.07,378.68 211.60,380.50 C212.13,382.32 212.67,384.08 213.30,386.50 C213.93,388.92 214.70,392.03 215.40,395.00 C216.10,397.97 216.82,401.37 217.50,404.30 C218.18,407.23 218.85,409.92 219.50,412.60 C220.15,415.28 220.73,417.75 221.40,420.40 C222.07,423.05 222.83,425.97 223.50,428.50 C224.17,431.03 224.77,433.32 225.40,435.60 C226.03,437.88 226.67,439.93 227.30,442.20 C227.93,444.47 228.57,446.95 229.20,449.20 C229.83,451.45 230.48,453.68 231.10,455.70 C231.72,457.72 232.32,459.58 232.90,461.30 C233.48,463.02 234.05,464.65 234.60,466.00 C235.15,467.35 235.68,468.47 236.20,469.40 C236.72,470.33 237.19,470.98 237.70,471.60 C238.21,472.22 238.73,473.10 239.25,473.10 C239.77,473.10 240.29,472.22 240.80,471.60 C241.31,470.98 241.78,470.33 242.30,469.40 C242.82,468.47 243.35,467.35 243.90,466.00 C244.45,464.65 245.02,463.02 245.60,461.30 C246.18,459.58 246.78,457.72 247.40,455.70 C248.02,453.68 248.67,451.45 249.30,449.20 C249.93,446.95 250.57,444.47 251.20,442.20 C251.83,439.93 252.47,437.88 253.10,435.60 C253.73,433.32 254.33,431.03 255.00,428.50 C255.67,425.97 256.43,423.05 257.10,420.40 C257.77,417.75 258.35,415.28 259.00,412.60 C259.65,409.92 260.32,407.23 261.00,404.30 C261.68,401.37 262.40,397.97 263.10,395.00 C263.80,392.03 264.57,388.92 265.20,386.50 C265.83,384.08 266.37,382.32 266.90,380.50 C267.43,378.68 267.88,377.15 268.40,375.60 C268.92,374.05 269.48,372.47 270.00,371.20 C270.52,369.93 270.92,369.05 271.50,368.00 C272.08,366.95 272.83,365.83 273.50,364.90 C274.17,363.97 274.67,363.18 275.50,362.40 C276.33,361.62 277.50,360.80 278.50,360.20 C279.50,359.60 280.33,359.33 281.50,358.80 C282.67,358.27 284.00,357.58 285.50,357.00 C287.00,356.42 288.67,355.97 290.50,355.30 C292.33,354.63 294.33,353.97 296.50,353.00 C298.67,352.03 301.67,350.43 303.50,349.50 C305.33,348.57 306.17,348.02 307.50,347.40 C308.83,346.78 310.00,346.25 311.50,345.80 C313.00,345.35 314.50,345.03 316.50,344.70 C318.50,344.37 320.67,344.17 323.50,343.80 C326.33,343.43 330.17,342.95 333.50,342.50 C336.83,342.05 340.17,341.58 343.50,341.10 C346.83,340.62 350.17,340.03 353.50,339.60 C356.83,339.17 359.33,338.82 363.50,338.50 C367.67,338.18 373.50,337.92 378.50,337.70 C383.50,337.48 388.17,337.35 393.50,337.20 C398.83,337.05 407.67,336.87 410.50,336.80" fill="none" stroke="#00a14b" stroke-width="1.35" clip-path="url(#clipbot)"/>
<path d="M68.00,277.30 C69.17,277.18 72.83,276.75 75.00,276.60 C77.17,276.45 78.83,276.30 81.00,276.40 C83.17,276.50 85.67,276.70 88.00,277.20 C90.33,277.70 92.42,278.58 95.00,279.40 C97.58,280.22 101.47,281.73 103.50,282.10 C105.53,282.47 105.78,281.78 107.20,281.60 C108.62,281.42 110.42,281.10 112.00,281.00 C113.58,280.90 115.32,280.88 116.70,281.00 C118.08,281.12 119.10,281.32 120.30,281.70 C121.50,282.08 122.30,282.53 123.90,283.30 C125.50,284.07 127.90,285.42 129.90,286.30 C131.90,287.18 133.87,287.98 135.90,288.60 C137.93,289.22 140.12,289.85 142.10,290.00 C144.08,290.15 146.32,289.55 147.80,289.50 C149.28,289.45 149.80,289.53 151.00,289.70 C152.20,289.87 153.50,289.90 155.00,290.50 C156.50,291.10 158.33,292.12 160.00,293.30 C161.67,294.48 163.33,296.20 165.00,297.60 C166.67,299.00 168.33,300.35 170.00,301.70 C171.67,303.05 173.33,304.60 175.00,305.70 C176.67,306.80 178.33,307.65 180.00,308.30 C181.67,308.95 183.58,309.15 185.00,309.60 C186.42,310.05 187.42,310.38 188.50,311.00 C189.58,311.62 190.42,312.20 191.50,313.30 C192.58,314.40 193.92,315.93 195.00,317.60 C196.08,319.27 197.17,321.22 198.00,323.30 C198.83,325.38 199.33,327.68 200.00,330.10 C200.67,332.52 201.33,335.23 202.00,337.80 C202.67,340.37 203.42,342.92 204.00,345.50 C204.58,348.08 205.02,350.55 205.50,353.30 C205.98,356.05 206.40,359.02 206.90,362.00 C207.40,364.98 207.92,368.00 208.50,371.20 C209.08,374.40 209.77,377.73 210.40,381.20 C211.03,384.67 211.67,388.28 212.30,392.00 C212.93,395.72 213.58,399.87 214.20,403.50 C214.82,407.13 215.43,410.80 216.00,413.80 C216.57,416.80 217.05,419.00 217.60,421.50 C218.15,424.00 218.70,426.47 219.30,428.80 C219.90,431.13 220.52,433.20 221.20,435.50 C221.88,437.80 222.67,440.32 223.40,442.60 C224.13,444.88 224.83,447.03 225.60,449.20 C226.37,451.37 227.23,453.70 228.00,455.60 C228.77,457.50 229.47,459.05 230.20,460.60 C230.93,462.15 231.72,463.67 232.40,464.90 C233.08,466.13 233.70,467.10 234.30,468.00 C234.90,468.90 235.45,469.65 236.00,470.30 C236.55,470.95 237.06,471.43 237.60,471.90 C238.14,472.37 238.70,473.10 239.25,473.10 C239.80,473.10 240.36,472.37 240.90,471.90 C241.44,471.43 241.95,470.95 242.50,470.30 C243.05,469.65 243.60,468.90 244.20,468.00 C244.80,467.10 245.42,466.13 246.10,464.90 C246.78,463.67 247.57,462.15 248.30,460.60 C249.03,459.05 249.73,457.50 250.50,455.60 C251.27,453.70 252.13,451.37 252.90,449.20 C253.67,447.03 254.37,444.88 255.10,442.60 C255.83,440.32 256.62,437.80 257.30,435.50 C257.98,433.20 258.60,431.13 259.20,428.80 C259.80,426.47 260.35,424.00 260.90,421.50 C261.45,419.00 261.93,416.80 262.50,413.80 C263.07,410.80 263.68,407.13 264.30,403.50 C264.92,399.87 265.57,395.72 266.20,392.00 C266.83,388.28 267.47,384.67 268.10,381.20 C268.73,377.73 269.42,374.40 270.00,371.20 C270.58,368.00 271.10,364.98 271.60,362.00 C272.10,359.02 272.52,356.05 273.00,353.30 C273.48,350.55 273.92,348.08 274.50,345.50 C275.08,342.92 275.83,340.37 276.50,337.80 C277.17,335.23 277.83,332.52 278.50,330.10 C279.17,327.68 279.67,325.38 280.50,323.30 C281.33,321.22 282.42,319.27 283.50,317.60 C284.58,315.93 285.92,314.40 287.00,313.30 C288.08,312.20 288.92,311.62 290.00,311.00 C291.08,310.38 292.08,310.05 293.50,309.60 C294.92,309.15 296.83,308.95 298.50,308.30 C300.17,307.65 301.83,306.80 303.50,305.70 C305.17,304.60 306.83,303.05 308.50,301.70 C310.17,300.35 311.83,299.00 313.50,297.60 C315.17,296.20 316.83,294.48 318.50,293.30 C320.17,292.12 322.00,291.10 323.50,290.50 C325.00,289.90 326.30,289.87 327.50,289.70 C328.70,289.53 329.22,289.45 330.70,289.50 C332.18,289.55 334.42,290.15 336.40,290.00 C338.38,289.85 340.57,289.22 342.60,288.60 C344.63,287.98 346.60,287.18 348.60,286.30 C350.60,285.42 353.00,284.07 354.60,283.30 C356.20,282.53 357.00,282.08 358.20,281.70 C359.40,281.32 360.42,281.12 361.80,281.00 C363.18,280.88 364.92,280.90 366.50,281.00 C368.08,281.10 369.88,281.42 371.30,281.60 C372.72,281.78 372.97,282.47 375.00,282.10 C377.03,281.73 380.92,280.22 383.50,279.40 C386.08,278.58 388.17,277.70 390.50,277.20 C392.83,276.70 395.33,276.50 397.50,276.40 C399.67,276.30 401.33,276.45 403.50,276.60 C405.67,276.75 409.33,277.18 410.50,277.30" fill="none" stroke="#ed1c24" stroke-width="1.35" clip-path="url(#clipbot)"/>
<circle cx="103.50" cy="282.10" r="2.9" fill="#fff" stroke="#ed1c24" stroke-width="1.2"/>
<circle cx="142.10" cy="290.00" r="2.9" fill="#fff" stroke="#ed1c24" stroke-width="1.2"/>
<circle cx="375.00" cy="282.10" r="2.9" fill="#fff" stroke="#ed1c24" stroke-width="1.2"/>
<circle cx="336.40" cy="290.00" r="2.9" fill="#fff" stroke="#ed1c24" stroke-width="1.2"/>
<circle cx="81.30" cy="418.90" r="2.9" fill="#fff" stroke="#00aeef" stroke-width="1.2"/>
<circle cx="118.50" cy="419.60" r="2.9" fill="#fff" stroke="#00aeef" stroke-width="1.2"/>
<circle cx="156.10" cy="421.20" r="2.9" fill="#fff" stroke="#00aeef" stroke-width="1.2"/>
<circle cx="193.80" cy="425.30" r="2.9" fill="#fff" stroke="#00aeef" stroke-width="1.2"/>
<circle cx="397.20" cy="418.90" r="2.9" fill="#fff" stroke="#00aeef" stroke-width="1.2"/>
<circle cx="360.00" cy="419.60" r="2.9" fill="#fff" stroke="#00aeef" stroke-width="1.2"/>
<circle cx="322.40" cy="421.20" r="2.9" fill="#fff" stroke="#00aeef" stroke-width="1.2"/>
<circle cx="284.70" cy="425.30" r="2.9" fill="#fff" stroke="#00aeef" stroke-width="1.2"/>
<circle cx="81.10" cy="449.80" r="2.9" fill="#fff" stroke="#2e3192" stroke-width="1.2"/>
<circle cx="118.50" cy="450.20" r="2.9" fill="#fff" stroke="#2e3192" stroke-width="1.2"/>
<circle cx="156.10" cy="450.90" r="2.9" fill="#fff" stroke="#2e3192" stroke-width="1.2"/>
<circle cx="193.80" cy="452.50" r="2.9" fill="#fff" stroke="#2e3192" stroke-width="1.2"/>
<circle cx="397.40" cy="449.80" r="2.9" fill="#fff" stroke="#2e3192" stroke-width="1.2"/>
<circle cx="360.00" cy="450.20" r="2.9" fill="#fff" stroke="#2e3192" stroke-width="1.2"/>
<circle cx="322.40" cy="450.90" r="2.9" fill="#fff" stroke="#2e3192" stroke-width="1.2"/>
<circle cx="284.70" cy="452.50" r="2.9" fill="#fff" stroke="#2e3192" stroke-width="1.2"/>
<circle cx="239.25" cy="473.10" r="2.9" fill="#fff" stroke="#2e3192" stroke-width="1.2"/>
</g>
</svg></body></html>
